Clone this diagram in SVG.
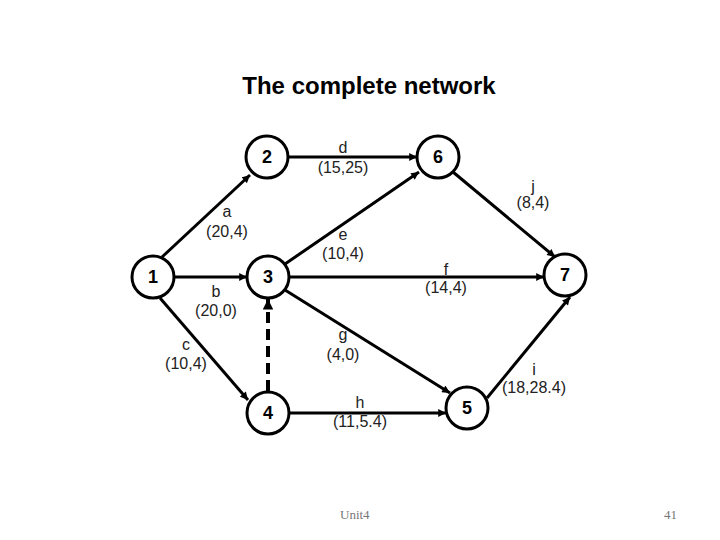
<svg xmlns="http://www.w3.org/2000/svg" width="720" height="540" viewBox="0 0 720 540">
<style>
.node circle{fill:#fff;stroke:#000;stroke-width:3}
.node text{font-family:"Liberation Sans",Arial,sans-serif;font-weight:bold;font-size:18px;text-anchor:middle;fill:#000}
.edge{stroke:#000;stroke-width:3;fill:none;marker-end:url(#arr)}
.dash{stroke-dasharray:11 6;stroke-width:4}
.lbl{font-family:"Liberation Sans",Arial,sans-serif;font-size:16px;text-anchor:middle;fill:#222}
.title{font-family:"Liberation Sans",Arial,sans-serif;font-weight:bold;font-size:24px;text-anchor:middle}
.foot{font-family:"Liberation Serif","Times New Roman",serif;font-size:13px;fill:#777}
</style>
<defs>
<marker id="arr" viewBox="0 0 10 10" refX="10" refY="5" markerWidth="3" markerHeight="2.6" orient="auto" markerUnits="strokeWidth">
<path d="M0,0 L10,5 L0,10 z" fill="#000"/>
</marker>
</defs>
<rect width="720" height="540" fill="#fff"/>
<text class="title" x="369" y="94">The complete network</text>
<g id="connectors">
<line class="edge" x1="162" y1="257" x2="250" y2="175"/>
<line class="edge" x1="175" y1="277" x2="247" y2="277"/>
<line class="edge" x1="160" y1="298" x2="248" y2="400"/>
<line class="edge" x1="288" y1="157" x2="417" y2="157"/>
<line class="edge" x1="285" y1="264" x2="419" y2="172"/>
<line class="edge" x1="289" y1="277" x2="544" y2="277"/>
<line class="edge" x1="285" y1="290" x2="450" y2="393"/>
<line class="edge" x1="289" y1="413" x2="446" y2="413"/>
<line class="edge" x1="487" y1="398" x2="570" y2="297"/>
<line class="edge" x1="453" y1="172" x2="555" y2="257"/>
<line class="edge dash" x1="268" y1="391" x2="268" y2="299"/>
</g>
<g id="edge-labels">
<text class="lbl" x="227" y="217">a</text><text class="lbl" x="227" y="237">(20,4)</text>
<text class="lbl" x="216" y="297">b</text><text class="lbl" x="216" y="316">(20,0)</text>
<text class="lbl" x="186" y="350">c</text><text class="lbl" x="186" y="369">(10,4)</text>
<text class="lbl" x="343" y="153">d</text><text class="lbl" x="343" y="173">(15,25)</text>
<text class="lbl" x="343" y="240">e</text><text class="lbl" x="343" y="259">(10,4)</text>
<text class="lbl" x="446" y="275">f</text><text class="lbl" x="446" y="293">(14,4)</text>
<text class="lbl" x="343" y="340">g</text><text class="lbl" x="343" y="360">(4,0)</text>
<text class="lbl" x="360" y="408">h</text><text class="lbl" x="360" y="427">(11,5.4)</text>
<text class="lbl" x="534" y="375">i</text><text class="lbl" x="534" y="393">(18,28.4)</text>
<text class="lbl" x="533" y="192">j</text><text class="lbl" x="533" y="208">(8,4)</text>
</g>
<g id="n1" class="node"><circle cx="153" cy="277" r="21"/><text x="153" y="283">1</text></g>
<g id="n2" class="node"><circle cx="267" cy="157" r="21"/><text x="267" y="163">2</text></g>
<g id="n3" class="node"><circle cx="268" cy="277" r="21"/><text x="268" y="283">3</text></g>
<g id="n4" class="node"><circle cx="268" cy="413" r="21"/><text x="268" y="419">4</text></g>
<g id="n5" class="node"><circle cx="467" cy="408" r="21"/><text x="467" y="414">5</text></g>
<g id="n6" class="node"><circle cx="438" cy="157" r="21"/><text x="438" y="163">6</text></g>
<g id="n7" class="node"><circle cx="565" cy="275" r="21"/><text x="565" y="281">7</text></g>
<text class="foot" x="340" y="519">Unit4</text>
<text class="foot" x="664" y="519">41</text>
</svg>
